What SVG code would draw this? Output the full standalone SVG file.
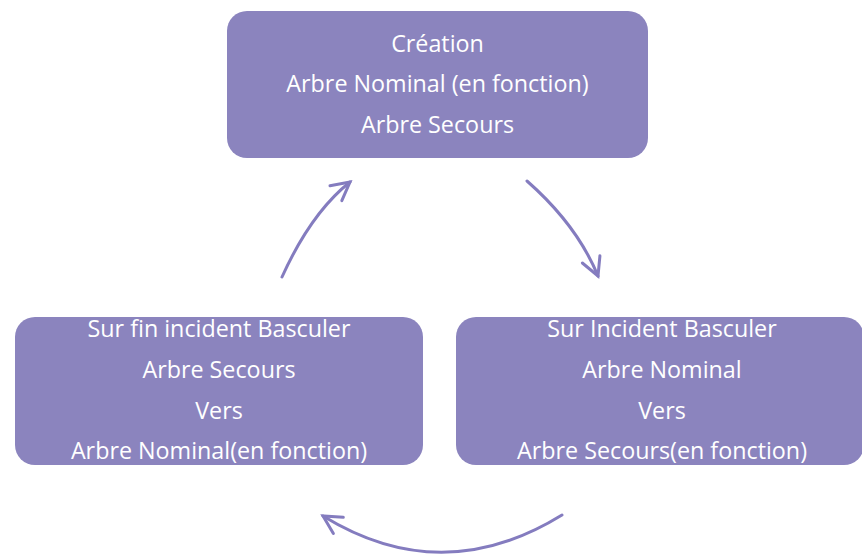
<svg xmlns="http://www.w3.org/2000/svg" width="862" height="554" viewBox="0 0 862 554">
  <style>
    .box { fill: #8B84BE; }
    .lbl { fill: #ffffff; font-family: "Open Sans", "Liberation Sans", sans-serif; font-size: 23.3px; text-anchor: middle; }
    .arc { fill: none; stroke: #847CBF; stroke-width: 3; stroke-linecap: round; }
  </style>
  <defs>
    <marker id="chev" markerUnits="userSpaceOnUse" viewBox="-22 -13 26 26" refX="0" refY="0" markerWidth="26" markerHeight="26" orient="auto">
      <path d="M-18,-9.5 L0,0 L-18,9.5" fill="none" stroke="#847CBF" stroke-width="3" stroke-linecap="round" stroke-linejoin="miter"/>
    </marker>
  </defs>
  <rect width="862" height="554" fill="#ffffff"/>

  <g id="node-creation">
    <rect class="box" x="227" y="11" width="421" height="147" rx="20" ry="20"/>
    <text class="lbl" x="437.5" y="52">Création</text>
    <text class="lbl" x="437.5" y="92">Arbre Nominal (en fonction)</text>
    <text class="lbl" x="437.5" y="133">Arbre Secours</text>
  </g>

  <g id="node-incident">
    <rect class="box" x="456" y="317" width="408" height="148" rx="20" ry="20"/>
    <text class="lbl" x="662" y="337">Sur Incident Basculer</text>
    <text class="lbl" x="662" y="378">Arbre Nominal</text>
    <text class="lbl" x="662" y="419">Vers</text>
    <text class="lbl" x="662" y="459">Arbre Secours(en fonction)</text>
  </g>

  <g id="node-fin-incident">
    <rect class="box" x="15" y="317" width="408" height="148" rx="20" ry="20"/>
    <text class="lbl" x="219" y="337">Sur fin incident Basculer</text>
    <text class="lbl" x="219" y="378">Arbre Secours</text>
    <text class="lbl" x="219" y="419">Vers</text>
    <text class="lbl" x="219" y="459">Arbre Nominal(en fonction)</text>
  </g>

  <g id="connectors">
    <path class="arc" d="M282,277 Q311,213 350,182" marker-end="url(#chev)"/>
    <path class="arc" d="M527,181 Q577,225 598,276" marker-end="url(#chev)"/>
    <path class="arc" d="M562,515 Q442,589 323,516" marker-end="url(#chev)"/>
  </g>
</svg>
